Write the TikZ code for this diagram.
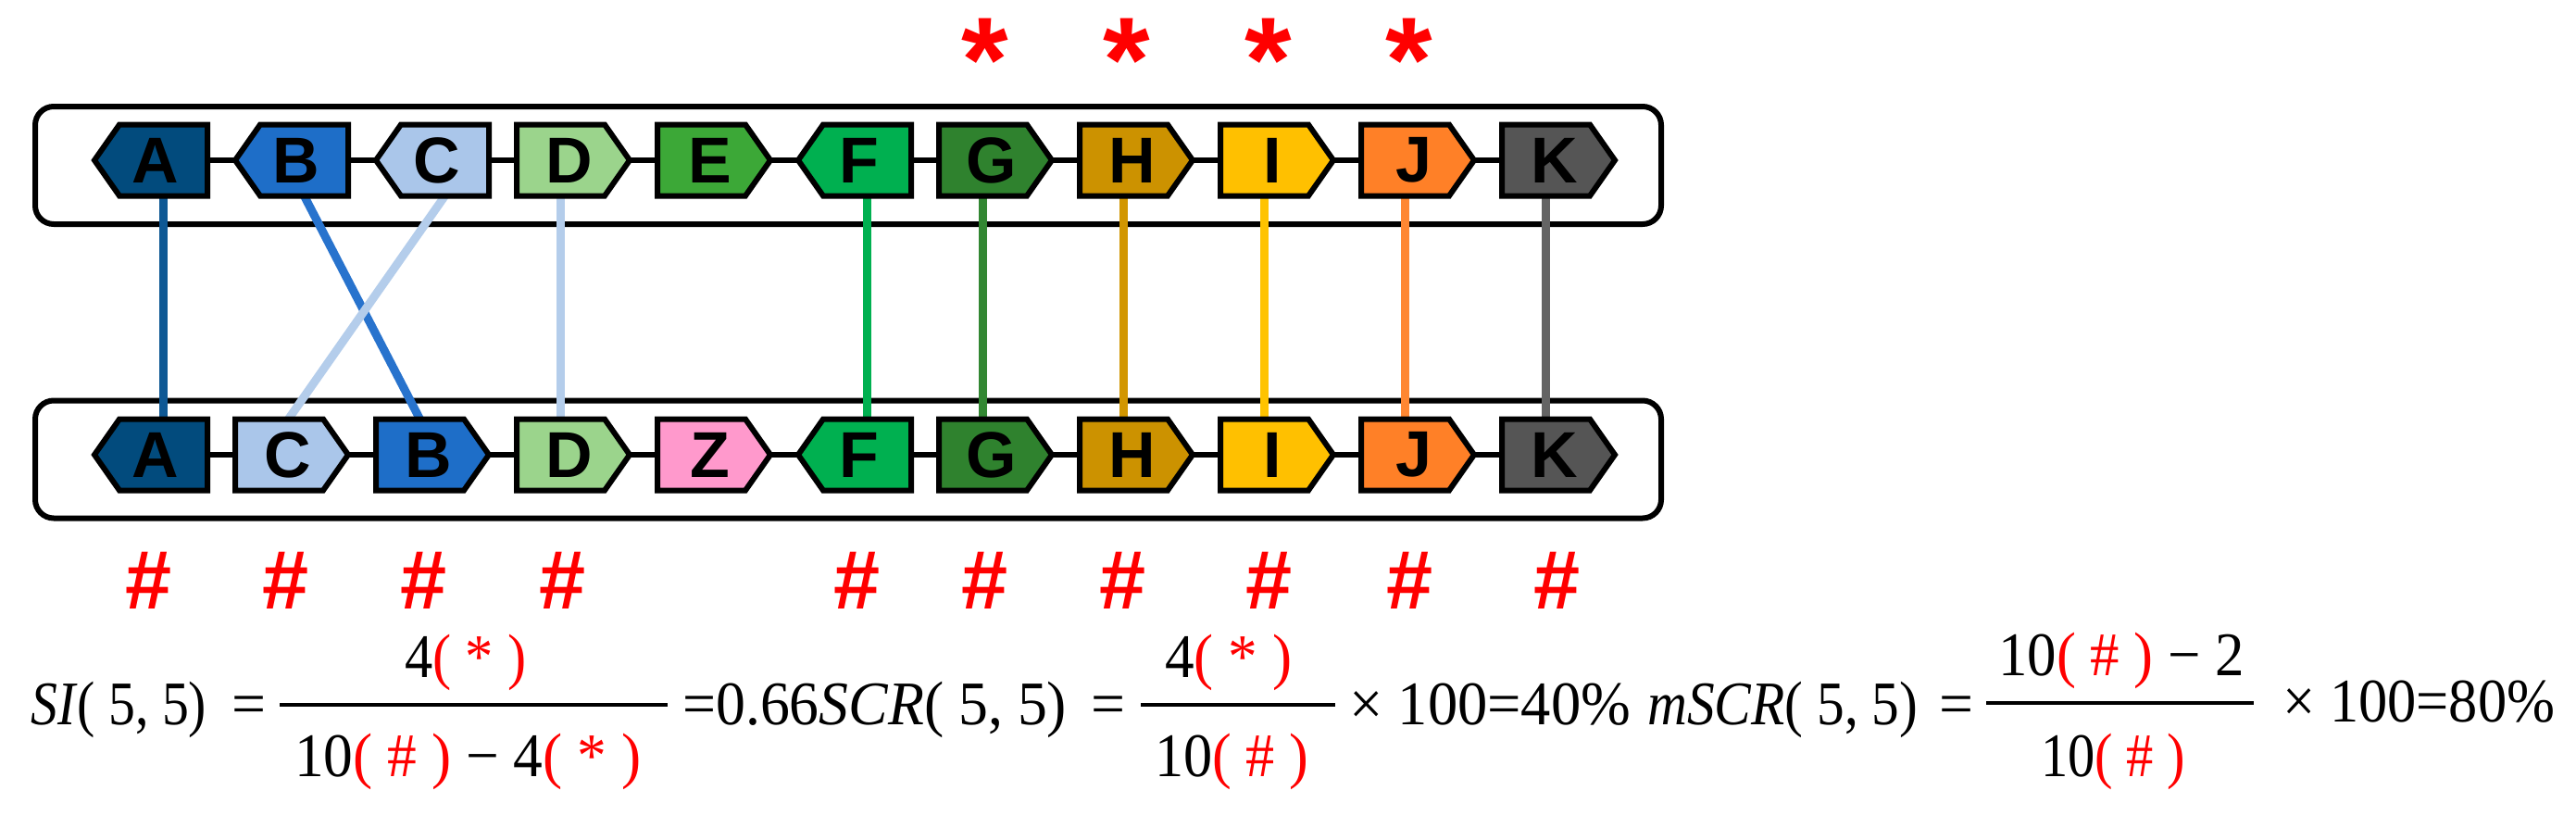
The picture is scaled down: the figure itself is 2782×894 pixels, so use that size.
\documentclass[tikz,border=0pt]{standalone}
\usepackage{fontspec}
\setmainfont{Liberation Serif}
\newfontfamily\lsans{Liberation Sans}
\usepackage{graphicx}
\usetikzlibrary{calc}
\definecolor{cA}{RGB}{2,75,125}
\definecolor{cB}{RGB}{30,110,200}
\definecolor{cC}{RGB}{170,198,234}
\definecolor{cD}{RGB}{155,212,140}
\definecolor{cE}{RGB}{60,168,55}
\definecolor{cF}{RGB}{0,176,80}
\definecolor{cG}{RGB}{47,130,46}
\definecolor{cH}{RGB}{204,146,0}
\definecolor{cI}{RGB}{255,192,0}
\definecolor{cJ}{RGB}{255,128,39}
\definecolor{cK}{RGB}{85,85,85}
\definecolor{cZ}{RGB}{255,153,204}
\definecolor{lA}{RGB}{14,88,148}
\definecolor{lB}{RGB}{40,115,205}
\definecolor{lC}{RGB}{180,205,235}
\definecolor{lF}{RGB}{0,176,80}
\definecolor{lG}{RGB}{50,135,50}
\definecolor{lH}{RGB}{210,150,0}
\definecolor{lI}{RGB}{255,195,0}
\definecolor{lJ}{RGB}{255,135,50}
\definecolor{lK}{RGB}{100,100,100}
\tikzset{
  genebody/.style={rectangle, minimum width=95pt, minimum height=77pt, inner sep=0pt, outer sep=0pt},
  geneedge/.style={draw=black, line width=6pt, line join=miter},
  glabel/.style={inner sep=0pt, font=\lsans\bfseries\fontsize{70}{70}\selectfont},
  backbone/.style={draw=black, line width=6pt},
  frame/.style={draw=black, line width=6pt, rounded corners=20pt, inner sep=0pt, minimum width=1756pt, minimum height=127pt},
  link/.style={line width=9pt},
  starmk/.style={inner sep=0pt, anchor=base, text=red, font=\lsans\bfseries\fontsize{130}{130}\selectfont},
  hashmk/.style={inner sep=0pt, anchor=base, text=red, font=\lsans\bfseries\fontsize{90}{90}\selectfont},
  eqtext/.style={inner sep=0pt, anchor=base west, font=\fontsize{67}{67}\selectfont},
  fracbar/.style={draw=black, line width=4pt}
}
\newcommand\geneR[5]{%
  \path[geneedge, fill=#4] (#1.north west) -- (#1.north east) -- ([xshift=27pt]#1.east) -- (#1.south east) -- (#1.south west) -- cycle;
  \node[glabel] (#1t) at ([xshift=9pt]#1.center) {#5};
}
\newcommand\geneL[5]{%
  \path[geneedge, fill=#4] (#1.north east) -- (#1.north west) -- ([xshift=-27pt]#1.west) -- (#1.south west) -- (#1.south east) -- cycle;
  \node[glabel] (#1t) at ([xshift=-9pt]#1.center) {#5};
}
\newcommand\rstar{\textcolor{red}{( * )}}
\newcommand\rhash{\textcolor{red}{( \# )}}
\newcommand\eqp[5]{\node[eqtext] (#1) at (#2,#3) {\resizebox{#4pt}{\height}{#5}};}
\begin{document}
\begin{tikzpicture}[x=1pt,y=-1pt]
\useasboundingbox (0,0) rectangle (2782,894);
\fill[white] (0,0) rectangle (2782,894);
% frames
\node[frame] (topbox) at (916,178.5) {};
\node[frame] (botbox) at (916,496) {};
% backbones
\draw[backbone] (176.5,173) -- (1669.5,173);
\draw[backbone] (176.5,491) -- (1669.5,491);
% gene bodies (named)
\node[genebody] (tA) at (176.5,173) {};
\node[genebody] (tB) at (328.5,173) {};
\node[genebody] (tC) at (480.5,173) {};
\node[genebody] (tD) at (605.5,173) {};
\node[genebody] (tE) at (757.5,173) {};
\node[genebody] (tF) at (936.5,173) {};
\node[genebody] (tG) at (1061.5,173) {};
\node[genebody] (tH) at (1213.5,173) {};
\node[genebody] (tI) at (1365.5,173) {};
\node[genebody] (tJ) at (1517.5,173) {};
\node[genebody] (tK) at (1669.5,173) {};
\node[genebody] (bA) at (176.5,491) {};
\node[genebody] (bC) at (301.5,491) {};
\node[genebody] (bB) at (453.5,491) {};
\node[genebody] (bD) at (605.5,491) {};
\node[genebody] (bZ) at (757.5,491) {};
\node[genebody] (bF) at (936.5,491) {};
\node[genebody] (bG) at (1061.5,491) {};
\node[genebody] (bH) at (1213.5,491) {};
\node[genebody] (bI) at (1365.5,491) {};
\node[genebody] (bJ) at (1517.5,491) {};
\node[genebody] (bK) at (1669.5,491) {};
% connectors
\draw[link, lA] (tA.south) -- (bA.north);
\draw[link, lB] (tB.south) -- (bB.north);
\draw[link, lC] (tC.south) -- ([xshift=10pt]bC.north);
\draw[link, lC] (tD.south) -- (bD.north);
\draw[link, lF] (tF.south) -- (bF.north);
\draw[link, lG] (tG.south) -- (bG.north);
\draw[link, lH] (tH.south) -- (bH.north);
\draw[link, lI] (tI.south) -- (bI.north);
\draw[link, lJ] (tJ.south) -- (bJ.north);
\draw[link, lK] (tK.south) -- (bK.north);
% top genes
\geneL{tA}{}{}{cA}{A}
\geneL{tB}{}{}{cB}{B}
\geneL{tC}{}{}{cC}{C}
\geneR{tD}{}{}{cD}{D}
\geneR{tE}{}{}{cE}{E}
\geneL{tF}{}{}{cF}{F}
\geneR{tG}{}{}{cG}{G}
\geneR{tH}{}{}{cH}{H}
\geneR{tI}{}{}{cI}{I}
\geneR{tJ}{}{}{cJ}{J}
\geneR{tK}{}{}{cK}{K}
% bottom genes
\geneL{bA}{}{}{cA}{A}
\geneR{bC}{}{}{cC}{C}
\geneR{bB}{}{}{cB}{B}
\geneR{bD}{}{}{cD}{D}
\geneR{bZ}{}{}{cZ}{Z}
\geneL{bF}{}{}{cF}{F}
\geneR{bG}{}{}{cG}{G}
\geneR{bH}{}{}{cH}{H}
\geneR{bI}{}{}{cI}{I}
\geneR{bJ}{}{}{cJ}{J}
\geneR{bK}{}{}{cK}{K}
% stars
\node[starmk] (s1) at (1064,109) {*};
\node[starmk] (s2) at (1217,109) {*};
\node[starmk] (s3) at (1370,109) {*};
\node[starmk] (s4) at (1522,109) {*};
% hashes
\node[hashmk] (h1) at (161,657) {\#};
\node[hashmk] (h2) at (309,657) {\#};
\node[hashmk] (h3) at (458,657) {\#};
\node[hashmk] (h4) at (608,657) {\#};
\node[hashmk] (h5) at (926,657) {\#};
\node[hashmk] (h6) at (1064,657) {\#};
\node[hashmk] (h7) at (1213,657) {\#};
\node[hashmk] (h8) at (1371,657) {\#};
\node[hashmk] (h9) at (1523,657) {\#};
\node[hashmk] (h10) at (1682,657) {\#};
% equation
\eqp{e1}{33}{782}{190}{\textit{SI}( 5, 5)}
\eqp{e2}{250}{782}{37}{=}
\draw[fracbar] (302,761) -- (721,761);
\eqp{e3}{437}{731}{131}{4\rstar}
\eqp{e4}{318}{838}{374}{10\rhash{} − 4\rstar}
\eqp{e5}{737}{782}{415}{=0.66\textit{SCR}( 5, 5)}
\eqp{e6}{1178}{782}{37}{=}
\draw[fracbar] (1232,761) -- (1442,761);
\eqp{e7}{1258}{731}{137}{4\rstar}
\eqp{e8}{1247}{838}{166}{10\rhash}
\eqp{e9}{1457}{782}{304}{× 100=40\%}
\eqp{e10}{1779}{782}{292}{\textit{mSCR}( 5, 5)}
\eqp{e11}{2094}{782}{37}{=}
\draw[fracbar] (2145,759) -- (2434,759);
\eqp{e12}{2158}{729}{266}{10\rhash{} − 2}
\eqp{e13}{2204}{838}{156}{10\rhash}
\eqp{e14}{2465}{779}{294}{× 100=80\%}
\end{tikzpicture}
\end{document}
